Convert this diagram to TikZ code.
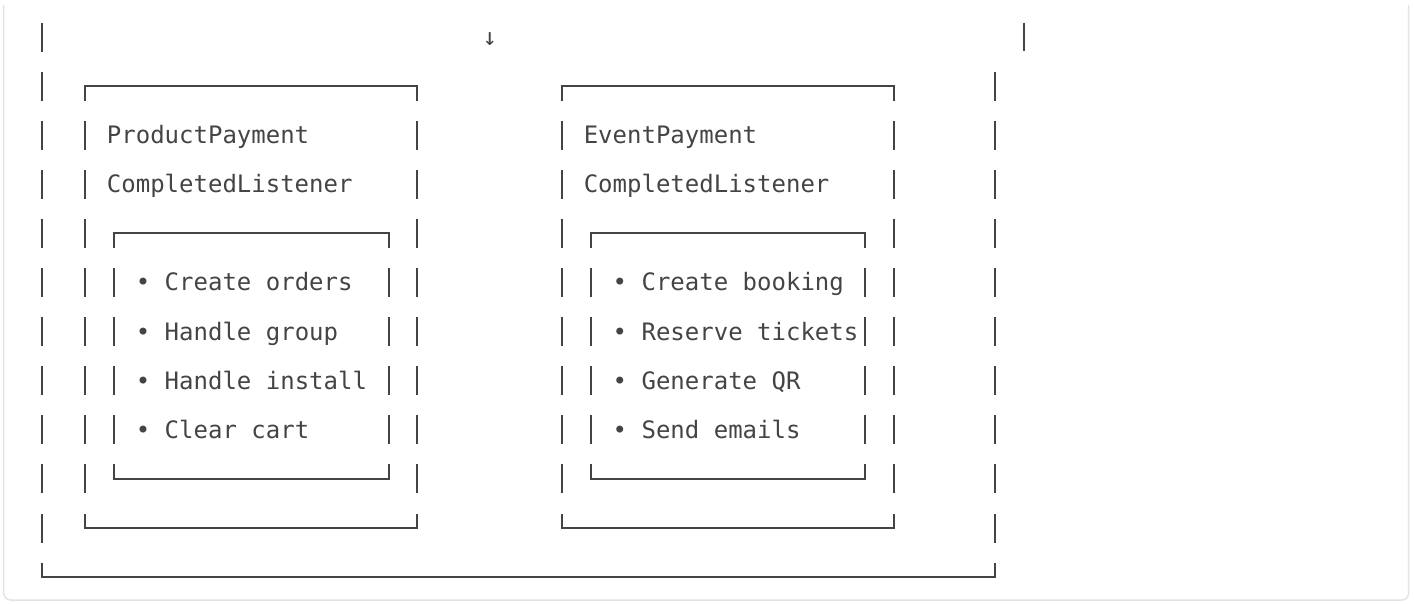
\documentclass[tikz,border=0pt]{standalone}
\usepackage{fontspec}
\setmonofont{DejaVu Sans Mono}
\definecolor{ink}{HTML}{444444}
\definecolor{rimgray}{HTML}{E3E3E3}

\begin{document}
\begin{tikzpicture}[x=14.45pt, y=-49.1pt,
    txt/.style={anchor=base west, inner sep=0pt, text=ink, font=\ttfamily\fontsize{24}{24}\selectfont},
    boxrule/.style={draw=ink, line width=2pt, line cap=rect},
    boxbar/.style={draw=ink, line width=2pt, dash pattern=on 29pt off 20.1pt, dash phase=14.5pt}]
  \useasboundingbox (-41.7pt,37pt) rectangle (1372.3pt,-567pt);
  \draw[rimgray, line width=1.5pt, rounded corners=7pt] (-38pt,32pt) -- (-38pt,-563pt) -- (1367pt,-563pt) -- (1367pt,32pt);

  % outer frame, its top lies above the picture
  \draw[boxrule] (0,11) -- (66,11);
  \draw[boxbar, dash phase=0pt] (0,-0.295) -- (0,11) (66,0.705) -- (66,11) (68,-0.295) -- (68,0.295);
  \node[txt] (down) at (30.5,0.173) {↓};

  % product listener
  \draw[boxrule] (3,1) -- (26,1) (3,10) -- (26,10);
  \draw[boxbar] (3,1) -- (3,10) (26,1) -- (26,10);
  \draw[boxrule] (5,4) -- (24,4) (5,9) -- (24,9);
  \draw[boxbar] (5,4) -- (5,9) (24,4) -- (24,9);
  \node[txt] (prodname) at (4.5,2.173) {ProductPayment};
  \node[txt] (prodlistener) at (4.5,3.173) {CompletedListener};
  \node[txt] (orders) at (6.5,5.173) {• Create orders};
  \node[txt] (group) at (6.5,6.173) {• Handle group};
  \node[txt] (install) at (6.5,7.173) {• Handle install};
  \node[txt] (cart) at (6.5,8.173) {• Clear cart};

  % event listener
  \draw[boxrule] (36,1) -- (59,1) (36,10) -- (59,10);
  \draw[boxbar] (36,1) -- (36,10) (59,1) -- (59,10);
  \draw[boxrule] (38,4) -- (57,4) (38,9) -- (57,9);
  \draw[boxbar] (38,4) -- (38,9) (57,4) -- (57,9);
  \node[txt] (eventname) at (37.5,2.173) {EventPayment};
  \node[txt] (eventlistener) at (37.5,3.173) {CompletedListener};
  \node[txt] (booking) at (39.5,5.173) {• Create booking};
  \node[txt] (tickets) at (39.5,6.173) {• Reserve tickets};
  \node[txt] (qr) at (39.5,7.173) {• Generate QR};
  \node[txt] (emails) at (39.5,8.173) {• Send emails};
\end{tikzpicture}
\end{document}
